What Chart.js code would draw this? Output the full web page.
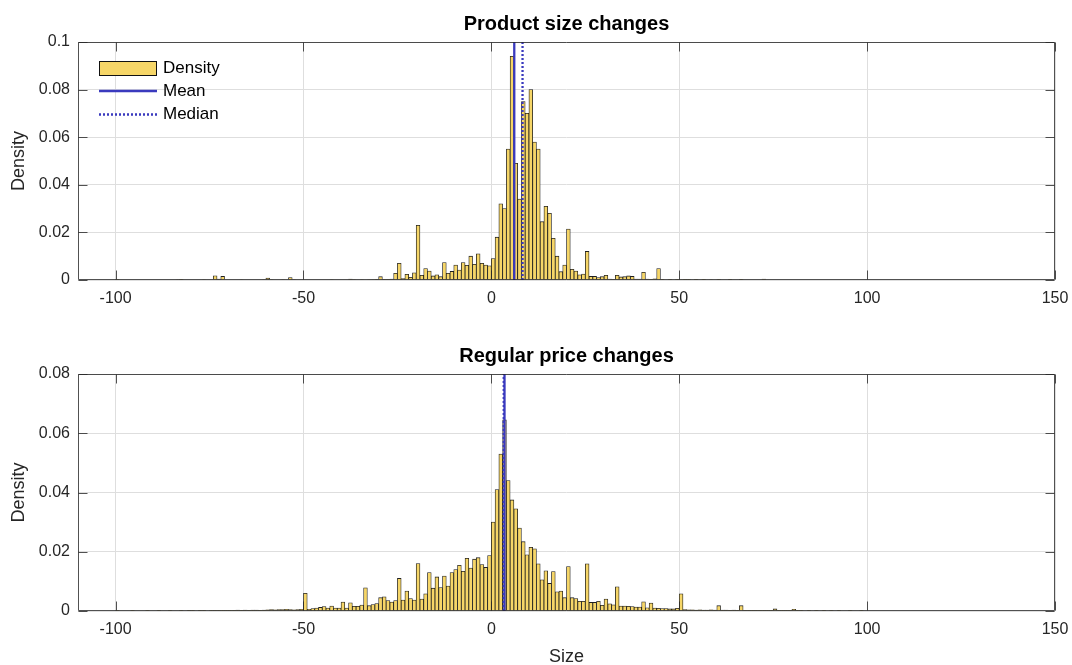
<!DOCTYPE html>
<html><head><meta charset="utf-8">
<script src="https://cdn.jsdelivr.net/npm/chart.js@4.4.1/dist/chart.umd.min.js"></script>
<style>
html,body{margin:0;padding:0;background:#fff;}
#wrap{position:relative;width:1072px;height:665px;overflow:hidden;}
.pane{position:absolute;left:0;width:1072px;}
</style></head><body>
<div id="wrap">
<div class="pane" style="top:0;height:320px"><canvas id="c1" width="1072" height="320"></canvas></div>
<div class="pane" style="top:320px;height:345px"><canvas id="c2" width="1072" height="345"></canvas></div>
</div>
<script>
// ---------- DATA ----------
const binWidth = 1;
const xTicks = [-100, -50, 0, 50, 100, 150];
const sizeYTicks = [0, 0.02, 0.04, 0.06, 0.08, 0.1];
const priceYTicks = [0, 0.02, 0.04, 0.06, 0.08];

// Product size changes: density per bin [k, k+1), k = -100 .. 99
const sizeFirstBin = -100;
const sizeDensity = [
  0.0003,0,0,0,0,0,0,0,0,0,                                   // -100..-91
  0,0,0,0,0,0,0.0002,0.0003,0,0,                              // -90..-81
  0,0,0,0.0002,0,0,0.0018,0.0004,0.0015,0,                    // -80..-71
  0,0,0,0.0002,0,0,0,0,0,0.0002,                              // -70..-61
  0.0008,0.0002,0,0,0.0002,0,0.001,0.0002,0,0,                // -60..-51
  0,0,0,0,0,0,0,0.0002,0,0,                                   // -50..-41
  0,0,0.0004,0.0002,0,0.0002,0,0.0002,0.0002,0.0003,          // -40..-31
  0.0014,0.0003,0.0003,0.0004,0.0028,0.007,0.0006,0.0024,0.0011,0.003,   // -30..-21
  0.023,0.002,0.0048,0.0038,0.0017,0.0022,0.0014,0.0073,0.0028,0.0036,   // -20..-11
  0.0063,0.0042,0.0073,0.0062,0.010,0.0066,0.011,0.007,0.0063,0.006,     // -10..-1
  0.009,0.018,0.032,0.030,0.055,0.094,0.049,0.034,0.075,0.070,           // 0..9
  0.080,0.058,0.055,0.0245,0.031,0.028,0.0175,0.010,0.0035,0.0063,       // 10..19
  0.0214,0.0045,0.0038,0.0022,0.0025,0.012,0.0015,0.0015,0.001,0.0014,   // 20..29
  0.002,0.0004,0.0003,0.002,0.0013,0.0014,0.0017,0.0015,0.0004,0.0004,   // 30..39
  0.0032,0.0004,0.0003,0.0005,0.0048,0.0001,0,0.0001,0,0.0001,           // 40..49
  0.0002,0.0003,0.0003,0,0.0001,0,0.0001,0,0.0002,0,          // 50..59
  0.0001,0,0,0.0001,0,0,0.0001,0,0,0,                         // 60..69
  0,0,0.0004,0,0,0,0,0,0,0,                                   // 70..79
  0,0,0,0,0,0,0,0,0,0,                                        // 80..89
  0,0,0,0,0,0,0,0,0,0                                         // 90..99
];
const sizeMean = 6.1;
const sizeMedian = 8.3;

// Regular price changes: density per bin [k, k+1), k = -100 .. 99
const priceFirstBin = -100;
const priceDensity = [
  0.0001,0,0,0,0.0001,0,0,0,0.0001,0,                         // -100..-91
  0,0.0001,0,0,0.0001,0,0,0.0001,0,0.0001,                    // -90..-81
  0.0001,0,0.0001,0.0001,0,0.0002,0.0001,0.0002,0.0001,0.0002,// -80..-71
  0.0002,0.0002,0.0003,0.0002,0.0003,0.0002,0.0003,0.0003,0.0002,0.0003, // -70..-61
  0.0004,0.0005,0.0004,0.0005,0.0005,0.0006,0.0005,0.0004,0.0005,0.0006, // -60..-51
  0.006,0.0006,0.0008,0.001,0.0012,0.0015,0.001,0.0017,0.001,0.001,       // -50..-41
  0.003,0.001,0.0028,0.0016,0.0016,0.002,0.0078,0.0018,0.0022,0.0025,     // -40..-31
  0.0045,0.0048,0.0035,0.003,0.0035,0.011,0.0037,0.0067,0.0042,0.0037,    // -30..-21
  0.016,0.004,0.0058,0.013,0.0077,0.0115,0.0079,0.0118,0.0084,0.013,      // -20..-11
  0.014,0.0154,0.0134,0.0178,0.0145,0.0175,0.018,0.0157,0.0147,0.0187,    // -10..-1
  0.030,0.041,0.053,0.0645,0.044,0.0375,0.0345,0.028,0.0234,0.019,        // 0..9
  0.0215,0.021,0.0159,0.0105,0.0136,0.0093,0.0133,0.0065,0.0067,0.0045,   // 10..19
  0.015,0.0045,0.0042,0.0033,0.0033,0.0159,0.0029,0.0029,0.0033,0.0019,   // 20..29
  0.004,0.0024,0.0021,0.0082,0.0017,0.0017,0.0016,0.0015,0.0013,0.0013,   // 30..39
  0.0031,0.0011,0.0027,0.001,0.0009,0.0008,0.0008,0.0007,0.0007,0.0009,   // 40..49
  0.0058,0.0005,0.0004,0.0004,0.0003,0.0004,0.0003,0.0003,0.0004,0.0003,  // 50..59
  0.0018,0.0003,0.0003,0.0002,0.0003,0.0002,0.0018,0.0002,0.0002,0.0002,  // 60..69
  0.0002,0.0001,0.0002,0.0001,0.0002,0.0007,0.0001,0.0002,0.0001,0.0001,  // 70..79
  0.0006,0.0001,0.0001,0,0.0001,0,0.0001,0,0.0001,0,          // 80..89
  0.0001,0,0.0001,0,0,0.0001,0,0,0.0001,0                     // 90..99
];
const priceMean = 3.5;
const priceMedian = 3.3;

// ---------- STYLE ----------
const FONT = "'Liberation Sans', Arial, Helvetica, sans-serif";
const BAR_FILL = 'rgb(246,214,104)';
const BAR_EDGE = 'rgba(20,20,20,0.95)';
const LINE_BLUE = 'rgb(58,58,190)';
const GRID = '#dedede';
const AXIS = 'rgba(38,38,38,0.8)';
const TXT = '#262626';
Chart.defaults.font.family = FONT;

const framePlugin = {
  id: 'frame',
  afterDatasetsDraw(chart) {
    const {ctx, chartArea: a, scales: {x, y}} = chart;
    const L = Math.round(a.left) + 0.5, R = Math.round(a.right) - 0.5;
    const T = Math.round(a.top) + 0.5, B = Math.round(a.bottom) - 0.5;
    const len = 9;
    ctx.save();
    ctx.strokeStyle = AXIS; ctx.lineWidth = 1;
    ctx.beginPath();
    ctx.rect(L, T, R - L, B - T);
    x.ticks.forEach(t => {
      const p = Math.round(x.getPixelForValue(t.value)) + 0.5;
      ctx.moveTo(p, B); ctx.lineTo(p, B - len);
      ctx.moveTo(p, T); ctx.lineTo(p, T + len);
    });
    y.ticks.forEach(t => {
      const p = Math.round(y.getPixelForValue(t.value)) + 0.5;
      ctx.moveTo(L, p); ctx.lineTo(L + len, p);
      ctx.moveTo(R, p); ctx.lineTo(R - len, p);
    });
    ctx.stroke();
    ctx.restore();
  }
};

const legendPlugin = {
  id: 'matlabLegend',
  afterDraw(chart, args, o) {
    if (!o || !o.show) return;
    const ctx = chart.ctx;
    const ds = chart.data.datasets;
    ctx.save();
    ctx.font = o.fontSize + 'px ' + FONT;
    ctx.textBaseline = 'middle';
    ctx.textAlign = 'left';
    o.rows.forEach((y, i) => {
      const d = ds[i];
      if (d.type === 'bar') {
        ctx.fillStyle = BAR_FILL;
        ctx.fillRect(o.x0, y - 7.5, o.x1 - o.x0, 15);
        ctx.strokeStyle = '#111'; ctx.lineWidth = 1;
        ctx.strokeRect(o.x0 + 0.5, y - 7, o.x1 - o.x0 - 1, 14);
      } else {
        ctx.strokeStyle = d.borderColor; ctx.lineWidth = d.borderWidth;
        ctx.setLineDash(d.borderDash || []);
        ctx.beginPath(); ctx.moveTo(o.x0, y); ctx.lineTo(o.x1, y); ctx.stroke();
        ctx.setLineDash([]);
      }
      ctx.fillStyle = '#000';
      ctx.fillText(d.label, o.tx, y);
    });
    ctx.restore();
  }
};

function makeChart(id, cfg) {
  const bars = cfg.values.map((v, i) => ({x: cfg.first + i * binWidth + binWidth / 2, y: v}));
  const ymax = cfg.yTicks[cfg.yTicks.length - 1];
  return new Chart(document.getElementById(id), {
    type: 'bar',
    data: {
      datasets: [
        {type: 'bar', label: 'Density', data: bars, backgroundColor: BAR_FILL, borderColor: BAR_EDGE,
         borderWidth: 0.8, barPercentage: 1, categoryPercentage: 1, order: 2},
        {type: 'line', label: 'Mean', data: [{x: cfg.mean, y: 0}, {x: cfg.mean, y: ymax}],
         borderColor: LINE_BLUE, borderWidth: 2.3, pointRadius: 0, order: 1},
        {type: 'line', label: 'Median', data: [{x: cfg.median, y: 0}, {x: cfg.median, y: ymax}],
         borderColor: LINE_BLUE, borderWidth: 2.3, borderDash: [2, 2], pointRadius: 0, order: 0}
      ]
    },
    options: {
      responsive: false, animation: false, events: [],
      layout: {padding: {left: 0, right: 17, top: 0, bottom: 0}},
      plugins: {
        legend: {display: false}, tooltip: {enabled: false},
        title: {display: true, text: cfg.title, fullSize: false, color: '#000',
                font: {size: 20, weight: 'bold', family: FONT}, padding: cfg.titlePad},
        matlabLegend: cfg.legend
      },
      scales: {
        x: {
          type: 'linear', min: -110, max: 150, offset: false,
          afterBuildTicks: s => { s.ticks = xTicks.map(v => ({value: v})); },
          afterFit: s => { s.height = cfg.xHeight; s.paddingLeft = 0; s.paddingRight = 0; },
          ticks: {color: TXT, font: {size: 16}, padding: 8.5, maxRotation: 0, autoSkip: false,
                  callback: v => String(v)},
          grid: {color: GRID, drawTicks: false, offset: false, lineWidth: 1},
          border: {display: false},
          title: {display: cfg.xTitle, text: 'Size', color: TXT, font: {size: 18}, padding: {top: 0, bottom: -3}}
        },
        y: {
          min: 0, max: ymax,
          afterBuildTicks: s => { s.ticks = cfg.yTicks.map(v => ({value: v})); },
          afterFit: s => { s.width = 78; s.paddingTop = 0; s.paddingBottom = 0; },
          ticks: {color: TXT, font: {size: 16}, padding: 8, callback: v => String(+v.toFixed(4))},
          grid: {color: GRID, drawTicks: false, lineWidth: 1},
          border: {display: false},
          title: {display: true, text: 'Density', color: TXT, font: {size: 18}, padding: {top: 8, bottom: 0}}
        }
      }
    },
    plugins: [framePlugin, legendPlugin]
  });
}

makeChart('c1', {
  title: 'Product size changes', first: sizeFirstBin, values: sizeDensity,
  mean: sizeMean, median: sizeMedian, yTicks: sizeYTicks,
  xHeight: 40, xTitle: false, titlePad: {top: 12.5, bottom: 5.5},
  legend: {show: true, x0: 99, x1: 157, tx: 163, rows: [68.5, 91, 114.5], fontSize: 17}
});
makeChart('c2', {
  title: 'Regular price changes', first: priceFirstBin, values: priceDensity,
  mean: priceMean, median: priceMedian, yTicks: priceYTicks,
  xHeight: 54, xTitle: true, titlePad: {top: 24.5, bottom: 5.5},
  legend: {show: false}
});
</script>
</body></html>
